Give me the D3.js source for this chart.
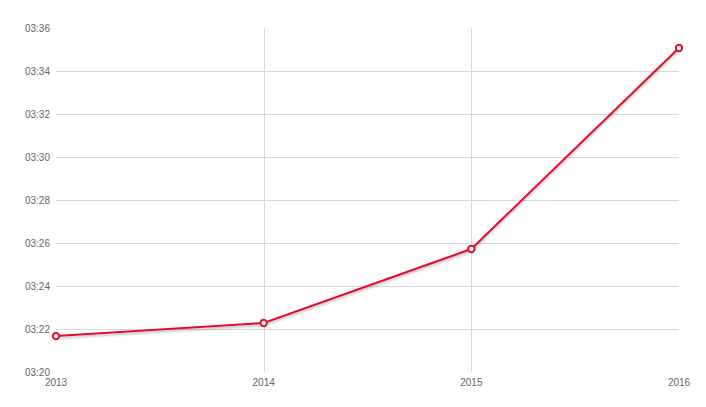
<!DOCTYPE html>
<html><head><meta charset="utf-8">
<script src="https://cdn.jsdelivr.net/npm/d3@7"></script>
<style>body{margin:0;background:#fff}svg{display:block}text{font-family:Arial,"Liberation Sans",sans-serif}</style>
</head><body><svg id="c" width="706" height="407"></svg>
<script>
const years = ["2013","2014","2015","2016"];
// times in minutes after 03:00
const values = [21.67, 22.28, 25.72, 35.07];
const yTicks = [20,22,24,26,28,30,32,34,36];

const svg = d3.select("#c");
const x = d3.scalePoint().domain(years).range([56,679]);
const y = d3.scaleLinear().domain([20,36]).range([372,28]);
const fmt = m => { const mm = Math.floor(m); return "03:" + String(mm).padStart(2,"0"); };

const defs = svg.append("defs");
const f = defs.append("filter").attr("id","sh").attr("x","-5%").attr("y","-20%").attr("width","110%").attr("height","140%");
f.append("feGaussianBlur").attr("in","SourceAlpha").attr("stdDeviation",1.2);
f.append("feOffset").attr("dx",0).attr("dy",2).attr("result","b");
f.append("feComponentTransfer").append("feFuncA").attr("type","linear").attr("slope",0.25);
const m = f.append("feMerge"); m.append("feMergeNode"); m.append("feMergeNode").attr("in","SourceGraphic");

// horizontal grid
svg.append("g").selectAll("line").data(yTicks.filter(t=>t!==20 && t!==36)).join("line")
  .attr("x1",56).attr("x2",679).attr("y1",d=>Math.round(y(d))+0.5).attr("y2",d=>Math.round(y(d))+0.5)
  .attr("stroke","#d9d9d9").attr("stroke-width",1);
// vertical grid
svg.append("g").selectAll("line").data(years.slice(1,3)).join("line")
  .attr("x1",d=>Math.round(x(d))+0.5).attr("x2",d=>Math.round(x(d))+0.5).attr("y1",28).attr("y2",372)
  .attr("stroke","#d9d9d9").attr("stroke-width",1);

// y labels
svg.append("g").selectAll("text").data(yTicks).join("text")
  .attr("x",50).attr("y",d=>y(d)+3.5).attr("text-anchor","end")
  .attr("font-size",10).attr("fill","#666").text(fmt);
// x labels
svg.append("g").selectAll("text").data(years).join("text")
  .attr("x",d=>x(d)).attr("y",386).attr("text-anchor","middle")
  .attr("font-size",10).attr("fill","#666").text(d=>d);

const data = years.map((yr,i)=>({yr, v:values[i]}));
const line = d3.line().x(d=>x(d.yr)).y(d=>y(d.v));
svg.append("path").datum(data).attr("d",line).attr("fill","none")
  .attr("stroke","#e2102e").attr("stroke-width",2).attr("filter","url(#sh)");
svg.append("g").selectAll("circle").data(data).join("circle")
  .attr("cx",d=>x(d.yr)).attr("cy",d=>y(d.v)).attr("r",3.2)
  .attr("fill","#fff").attr("stroke","#e2102e").attr("stroke-width",2);
</script></body></html>
